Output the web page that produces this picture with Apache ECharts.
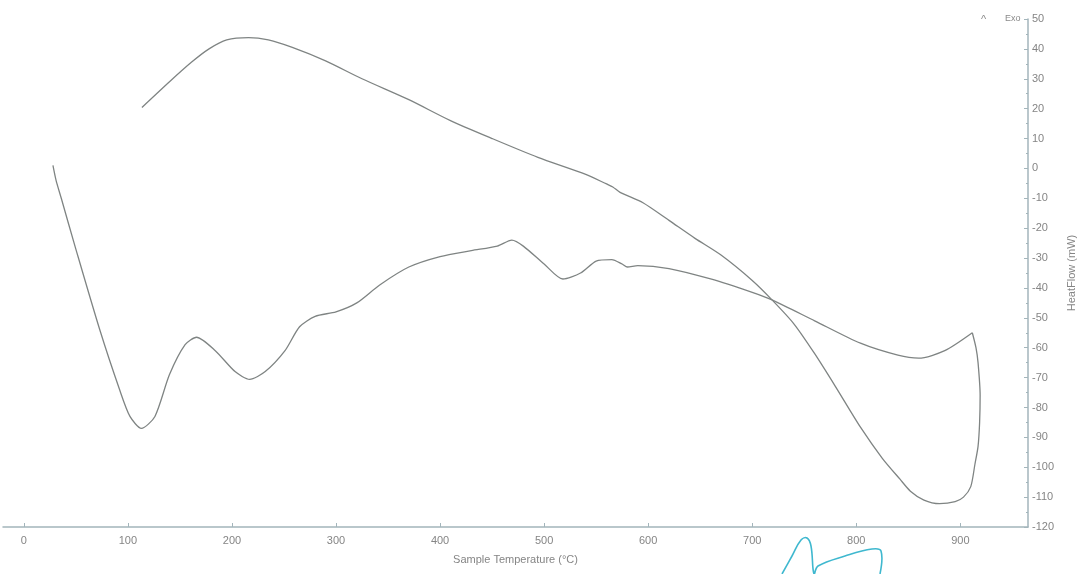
<!DOCTYPE html>
<html>
<head>
<meta charset="utf-8">
<script src="https://cdn.jsdelivr.net/npm/echarts@6/dist/echarts.min.js"></script>
<style>
  html, body { margin: 0; background: #fff; }
  #chart { width: 1086px; height: 574px; }
</style>
</head>
<body>
<div id="chart"></div>
<script>
// heating run: sample temperature (°C) / heat flow (mW)
const heatTemp = [28, 31, 36, 50, 73, 92, 102, 113, 126, 140, 155, 166, 184, 203, 217, 232, 251, 265, 280, 300, 320, 342, 370, 400, 430, 455, 469, 480, 500, 518, 535, 550, 565, 575, 580, 590, 620, 660, 700, 719, 760, 804, 840, 860, 885, 911.5]
const heatFlow = [1, -4, -10, -27, -54, -74, -83, -87, -83, -69, -59, -56.5, -61, -68, -70.6, -68, -61, -53, -49.5, -48, -45, -39, -33, -29.5, -27.5, -26, -24, -26, -32, -37, -35, -31, -30.5, -32, -33, -32.5, -33.5, -37, -41.5, -44, -51, -58.5, -62.5, -63.5, -61, -55]

// cooling run back down to ~110 °C
const coolTemp = [911.5, 915, 917, 919, 918.5, 917, 914, 910, 903, 895, 880, 865, 852, 842, 825, 804, 780, 760, 740, 719, 700, 670, 645, 620, 595, 573, 566, 560, 540, 494, 450, 410, 370, 325, 290, 258, 235, 216, 195, 178, 161, 140, 113.5]
const coolFlow = [-55, -60, -65, -76, -85, -93, -99, -106.5, -110, -111.5, -112.2, -111, -108, -104, -97, -86.6, -73, -62, -52, -44, -37.5, -29, -23.4, -17.4, -11.5, -8, -6.2, -5.2, -2, 3.7, 10, 16, 23, 30, 36, 40.5, 43, 43.8, 43, 40, 35.5, 29, 20.4]

const xTicks = [0, 100, 200, 300, 400, 500, 600, 700, 800, 900]

const AXIS_COLOR = '#a3b5bb'
const LABEL_COLOR = '#858585'
const CURVE_COLOR = '#7f8483'
const FONT = 'Liberation Sans'

var pairs = (xs, ys) => xs.map((x, i) => [x, ys[i]])

var chart = echarts.init(document.getElementById('chart'), null, { renderer: 'canvas' })

var curve = (name, data) => ({
  name: name,
  type: 'line',
  data: data,
  smooth: 0.25,
  showSymbol: false,
  silent: true,
  lineStyle: { color: CURVE_COLOR, width: 1.3 }
})

chart.setOption({
  backgroundColor: '#fff',
  animation: false,
  textStyle: { fontFamily: FONT },
  grid: { left: 3, right: 58, top: 19, bottom: 47 },
  xAxis: {
    type: 'value',
    min: -20,
    max: 965,
    name: 'Sample Temperature (°C)',
    nameLocation: 'middle',
    nameGap: 27,
    nameTextStyle: { color: LABEL_COLOR, fontSize: 11, fontFamily: FONT },
    axisLine: { onZero: false, lineStyle: { color: AXIS_COLOR, width: 1.5 } },
    axisTick: { customValues: xTicks, inside: true, length: 4, lineStyle: { color: AXIS_COLOR } },
    axisLabel: { customValues: xTicks, color: LABEL_COLOR, fontSize: 11, margin: 8 },
    splitLine: { show: false }
  },
  yAxis: {
    type: 'value',
    position: 'right',
    min: -120,
    max: 50,
    interval: 10,
    name: 'HeatFlow (mW)',
    nameLocation: 'middle',
    nameRotate: 90,
    nameGap: 38,
    nameTextStyle: { color: LABEL_COLOR, fontSize: 11, fontFamily: FONT },
    axisLine: { show: true, onZero: false, lineStyle: { color: AXIS_COLOR, width: 1.5 } },
    axisTick: { show: true, inside: true, length: 4, lineStyle: { color: AXIS_COLOR } },
    minorTick: { show: true, splitNumber: 2, length: 2, lineStyle: { color: AXIS_COLOR } },
    axisLabel: { color: LABEL_COLOR, fontSize: 11, margin: 4 },
    splitLine: { show: false }
  },
  graphic: [
    {
      type: 'text',
      left: 981,
      top: 14,
      style: { text: '^', fill: '#8a8a8a', font: '11px Liberation Sans' }
    },
    {
      type: 'text',
      left: 1005,
      top: 14,
      style: { text: 'Exo', fill: '#8a8a8a', font: '9px Liberation Sans' }
    },
    {
      // pen signature scribbled under the axis
      type: 'polyline',
      silent: true,
      shape: {
        smooth: 0.4,
        points: [[782, 574], [792, 556], [801, 540], [807, 538], [811, 546], [814, 574], [818, 566], [845, 556], [872, 549], [881, 551], [880, 574]]
      },
      style: { stroke: '#3fb8cf', lineWidth: 1.6, fill: null }
    }
  ],
  series: [
    curve('Heating', pairs(heatTemp, heatFlow)),
    curve('Cooling', pairs(coolTemp, coolFlow))
  ]
})
</script>
</body>
</html>
